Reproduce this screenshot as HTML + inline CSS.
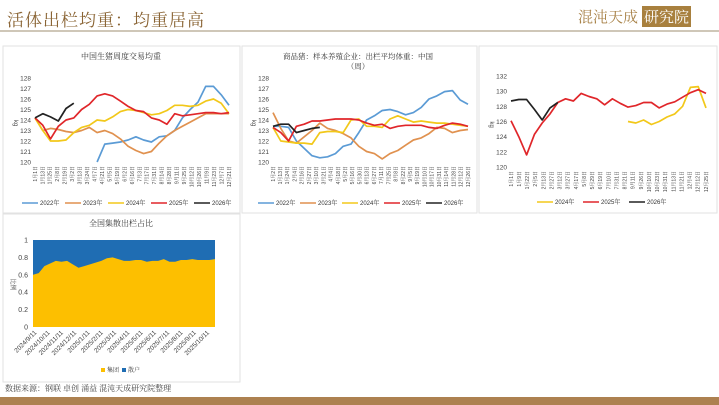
<!DOCTYPE html>
<html><head><meta charset="utf-8">
<style>
body{margin:0;width:719px;height:405px;background:#fff;overflow:hidden;position:relative;font-family:"Liberation Sans","Noto Serif CJK SC","Noto Sans CJK SC",sans-serif;}
#title{position:absolute;left:7px;top:6px;font-size:17px;color:#8a6434;font-family:"Noto Serif CJK SC","Noto Sans CJK SC",serif;letter-spacing:1px}
#logo{position:absolute;left:578px;top:6px;font-size:15px;color:#a88248;font-family:"Noto Serif CJK SC",serif}
#logo span{background:#a8803e;color:#fff;padding:0 2px;margin-left:4px}
#rule{position:absolute;left:0;top:30px;width:719px;height:2px;background:#cfc7b8}
#band{position:absolute;left:0;top:397px;width:719px;height:8px;background:#ad8150}
#src{position:absolute;left:5px;top:383px;font-size:8px;color:#444;font-family:"Noto Serif CJK SC",serif}
svg{position:absolute;left:0;top:0}
</style></head><body>
<div id="title">活体出栏均重：均重居高</div>
<div id="logo">混沌天成<span>研究院</span></div>
<div id="rule"></div>
<svg id="svg" width="719" height="405"></svg>
<div id="src">数据来源：钢联 卓创 涌益 混沌天成研究院整理</div>
<div id="band"></div>
<script>
// Chart 1: 中国生猪周度交易均重
const c1Labels=["1月1日","1月13日","1月25日","2月8日","2月19日","3月2日","3月13日","3月24日","4月7日","4月21日","5月5日","5月19日","6月2日","6月16日","7月3日","7月17日","7月31日","8月14日","8月28日","9月11日","9月25日","10月12日","10月26日","11月9日","11月23日","12月7日","12月21日"];
const c1Y2022=[null,null,null,null,null,null,null,null,120.0,121.7,121.8,121.9,122.1,122.4,122.1,121.9,122.4,122.5,123.0,124.2,125.0,125.7,127.2,127.2,126.4,125.4];
const c1Y2023=[124.2,123.0,123.2,123.1,122.9,122.8,123.0,123.3,122.8,123.0,122.7,122.2,121.5,121.1,120.8,121.0,121.8,122.5,123.0,123.4,123.8,124.2,124.6,124.6,124.6,124.6];
const c1Y2024=[124.2,123.0,122.0,122.0,122.1,122.8,123.3,123.5,124.0,123.9,124.3,124.8,125.0,124.9,124.7,124.5,124.6,124.9,125.4,125.4,125.3,125.4,125.8,126.0,125.6,124.6];
const c1Y2025=[124.2,123.5,122.2,123.4,124.0,124.2,125.0,125.5,126.3,126.5,126.3,125.8,125.3,124.9,124.8,124.2,124.0,123.6,124.6,124.4,124.5,124.6,124.7,124.7,124.6,124.7];
const c1Y2026=[124.2,124.6,124.3,123.9,125.1,125.6];
const c1Ticks=[120,121,122,123,124,125,126,127,128];
// Chart 2
const c2Labels=["1月2日","1月13日","1月24日","2月4日","2月16日","2月27日","3月10日","3月21日","4月4日","4月18日","5月2日","5月16日","5月30日","6月13日","6月27日","7月11日","7月25日","8月8日","8月22日","9月5日","9月19日","10月10日","10月17日","10月31日","11月14日","11月28日","12月12日","12月26日"];
const c2Y2022=[123.4,123.4,123.3,122.0,121.3,120.6,120.4,120.5,120.8,121.5,121.7,122.8,124.0,124.4,124.9,125.0,124.8,124.5,124.7,125.2,126.0,126.3,126.7,126.8,125.9,125.5];
const c2Y2023=[124.7,123.2,122.0,121.8,122.4,123.0,123.7,123.2,123.0,122.7,122.3,121.5,121.0,120.8,120.3,120.8,121.1,121.6,122.1,122.3,122.7,123.3,123.2,122.8,123.0,123.1];
const c2Y2024=[123.3,122.0,121.9,121.8,121.8,121.7,122.8,122.9,122.9,122.8,124.0,124.1,123.4,123.4,123.3,124.1,124.4,124.1,123.8,123.9,123.8,123.7,123.7,123.6,123.5,123.4];
const c2Y2025=[123.3,122.8,122.0,123.4,123.6,123.9,123.9,124.0,124.1,124.1,124.1,124.0,123.7,123.5,123.6,123.2,123.4,123.5,123.5,123.5,123.3,123.2,123.5,123.7,123.6,123.4];
const c2Y2026=[123.4,123.6,123.6,122.8,123.0,123.2,123.3];
const c2Ticks=[120,121,122,123,124,125,126,127,128];
// Chart 3
const c3Labels=["1月1日","1月9日","1月22日","2月5日","2月13日","2月27日","3月12日","3月27日","4月17日","5月8日","5月29日","6月19日","7月10日","7月31日","8月21日","9月11日","9月26日","10月10日","10月23日","10月31日","11月13日","11月21日","12月4日","12月12日","12月25日"];
const c3Y2024=[null,null,null,null,null,null,null,null,null,null,null,null,null,null,null,126.0,125.8,126.2,125.6,126.0,126.6,127.0,128.0,130.5,130.6,127.8];
const c3Y2025=[126.1,124.0,121.6,124.3,125.8,127.0,128.5,129.0,128.7,129.7,129.3,129.0,128.2,129.0,128.4,127.9,128.1,128.5,128.5,127.8,128.3,128.6,129.2,129.8,130.2,129.7];
const c3Y2026=[128.7,128.9,128.9,127.6,126.2,127.8,128.5];
const c3Ticks=[120,122,124,126,128,130,132];
// Chart 4
const c4Labels=["2024/9/11","2024/10/11","2024/11/11","2024/12/11","2025/1/11","2025/2/11","2025/3/11","2025/4/11","2025/5/11","2025/6/11","2025/7/11","2025/8/11","2025/9/11","2025/10/11"];
const c4Group=[0.60,0.62,0.70,0.73,0.76,0.75,0.76,0.72,0.68,0.70,0.72,0.74,0.76,0.79,0.80,0.78,0.76,0.76,0.77,0.77,0.75,0.76,0.76,0.78,0.75,0.75,0.77,0.77,0.78,0.77,0.77,0.77,0.78];
const c4Ticks=[0,0.2,0.4,0.6,0.8,1];

const NS="http://www.w3.org/2000/svg";
const svg=document.getElementById('svg');
function el(tag,attrs,parent){const e=document.createElementNS(NS,tag);for(const k in attrs)e.setAttribute(k,attrs[k]);(parent||svg).appendChild(e);return e;}
function txt(s,attrs,parent){const t=el('text',attrs,parent);t.textContent=s;return t;}
const COL={"2022":"#5b9bd5","2023":"#e0914f","2024":"#f2c81a","2025":"#e0262a","2026":"#222"};

function box(x,y,w,h,name){const r=el('rect',{x:x,y:y,width:w,height:h,fill:'none',stroke:'#e2e2e2','stroke-width':1});}

function lineChart(o){
  const g=el('g',{});
  
  
  const ymin=o.ticks[0],ymax=o.ticks[o.ticks.length-1];
  const ys=v=>o.y1-(v-ymin)/(ymax-ymin)*(o.y1-o.y0);
  const xs=i=>o.x0+i/o.n*(o.x1-o.x0);
  o.ticks.forEach(t=>{const l=txt(String(t),{x:o.x0-4,y:ys(t)+2.5,'font-size':6.5,fill:'#444','text-anchor':'end'},g);});
  const yt=txt('kg',{x:0,y:0,'font-size':6,fill:'#444',transform:`translate(${o.x0-21},${(o.y0+o.y1)/2}) rotate(90)`},g);
  
  const lx=i=>o.x0+i/(o.labels.length-1)*(o.x1-o.x0);
  o.labels.forEach((s,i)=>{const l=txt(s,{x:0,y:0,'font-size':5,fill:'#444','text-anchor':'end',transform:`translate(${lx(i)+1.8},${o.y1+4}) rotate(-90)`},g);});
  o.series.forEach(s=>{
    let d='';let pen=false;
    s.data.forEach((v,i)=>{if(v==null){pen=false;return;}d+=(pen?'L':'M')+xs(i).toFixed(1)+','+ys(v).toFixed(1);pen=true;});
    const p=el('path',{d:d,fill:'none',stroke:COL[s.k],'stroke-width':1.7,'stroke-linejoin':'round'},g);
    
  });
  o.legend.forEach((k,i)=>{
    const lx0=o.legX+i*o.legStep;
    const ll=el('line',{x1:lx0,y1:o.legY,x2:lx0+16,y2:o.legY,stroke:COL[k],'stroke-width':1.5},g);
    
    const lt=txt(k+'年',{x:lx0+18,y:o.legY+2.2,'font-size':6,fill:'#333'},g);
    
  });
  return g;
}

box(3,46,237,167,'chart1-frame');
box(242,46,235,167,'chart2-frame');
box(479,46,238,167,'chart3-frame');
box(3,214,237,168,'chart4-frame');

let t1=txt('中国生猪周度交易均重',{x:121,y:59,'font-size':8,fill:'#333','text-anchor':'middle'});

lineChart({name:'chart1',x0:35,x1:229,y0:78,y1:162,n:25,ticks:c1Ticks,labels:c1Labels,
 series:[{k:'2022',data:c1Y2022},{k:'2023',data:c1Y2023},{k:'2024',data:c1Y2024},{k:'2025',data:c1Y2025},{k:'2026',data:c1Y2026}],
 legend:['2022','2023','2024','2025','2026'],legX:22,legStep:43,legY:203});

let t2a=txt('商品猪：样本养殖企业：出栏平均体重：中国',{x:358,y:59,'font-size':7.5,fill:'#333','text-anchor':'middle'});

let t2b=txt('（周）',{x:358,y:69,'font-size':7.5,fill:'#333','text-anchor':'middle'});

lineChart({name:'chart2',x0:273,x1:468,y0:78,y1:162,n:25,ticks:c2Ticks,labels:c2Labels,
 series:[{k:'2022',data:c2Y2022},{k:'2023',data:c2Y2023},{k:'2024',data:c2Y2024},{k:'2025',data:c2Y2025},{k:'2026',data:c2Y2026}],
 legend:['2022','2023','2024','2025','2026'],legX:258,legStep:42,legY:203});

lineChart({name:'chart3',x0:511,x1:706,y0:76,y1:167,n:25,ticks:c3Ticks,labels:c3Labels,
 series:[{k:'2024',data:c3Y2024},{k:'2025',data:c3Y2025},{k:'2026',data:c3Y2026}],
 legend:['2024','2025','2026'],legX:537,legStep:46,legY:202});

(function(){
  const g=el('g',{});
  
  
  const x0=33,x1=215,y0=240,y1=327;
  const ys=v=>y1-v*(y1-y0);
  const xs=i=>x0+i/(c4Group.length-1)*(x1-x0);
  const t=txt('全国集散出栏占比',{x:121,y:226,'font-size':8,fill:'#333','text-anchor':'middle'},g);
  
  const blue=el('rect',{x:x0,y:y0,width:x1-x0,height:y1-y0,fill:'#1f6db3'},g);
  
  let d='M'+x0+','+y1;
  c4Group.forEach((v,i)=>{d+='L'+xs(i).toFixed(1)+','+ys(v).toFixed(1);});
  d+='L'+x1+','+y1+'Z';
  const a=el('path',{d:d,fill:'#fdbf00'},g);
  
  c4Ticks.forEach(v=>{const l=txt(String(v),{x:x0-5,y:ys(v)+2.5,'font-size':7,fill:'#444','text-anchor':'end'},g);});
  const yt=txt('比例',{x:0,y:0,'font-size':6,fill:'#444',transform:`translate(${x0-22},${(y0+y1)/2-5}) rotate(90)`},g);
  
  const span=(x1-x0)/(c4Labels.length-0.3);
  c4Labels.forEach((s,i)=>{const l=txt(s,{x:0,y:0,'font-size':6.5,fill:'#444','text-anchor':'end',transform:`translate(${x0+4+i*span},${y1+6}) rotate(-45)`},g);});
  const s1=el('rect',{x:101,y:368,width:4,height:4,fill:'#fdbf00'},g);
  const l1=txt('集团',{x:107,y:372,'font-size':6,fill:'#333'},g);
  const s2=el('rect',{x:122,y:368,width:4,height:4,fill:'#1f6db3'},g);
  const l2=txt('散户',{x:128,y:372,'font-size':6,fill:'#333'},g);
})();
</script>
</body></html>
